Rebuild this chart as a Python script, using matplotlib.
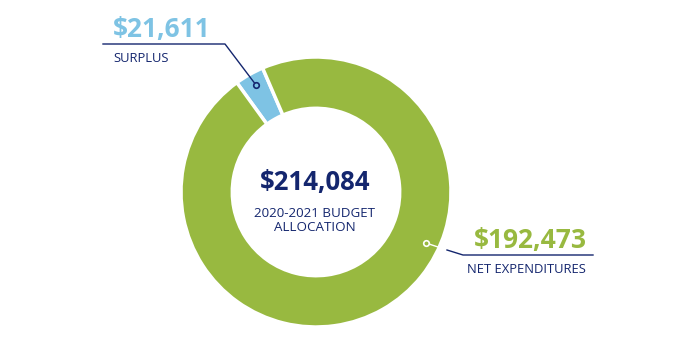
import matplotlib.pyplot as plt

# values shown on the chart
labels = ['NET EXPENDITURES', 'SURPLUS']
amounts = ['$192,473', '$21,611']
total = '$214,084'
title_lines = ['2020-2021 BUDGET', 'ALLOCATION']
# slice sizes as drawn in the picture (percent of the ring)
shares = [96.5, 3.5]

green = '#98B940'
blue = '#7EC3E4'
navy = '#14266E'

W, H = 686, 359
fig = plt.figure(figsize=(W / 100, H / 100), dpi=100)
ax = fig.add_axes([0, 0, 1, 1])

cx, cy, R = 316, H - 192, 135
ax.pie(shares[::-1], colors=[blue, green], startangle=113.3, counterclock=True,
       radius=R, center=(cx, cy), frame=True,
       wedgeprops=dict(width=R * 0.38, edgecolor='white', linewidth=2.5))
ax.set_xlim(0, W)
ax.set_ylim(0, H)
ax.set_aspect('equal')
ax.axis('off')

def Y(y):
    return H - y

fam = ['Open Sans', 'DejaVu Sans']

# centre text
ax.text(cx - 1, Y(190), total, ha='center', va='baseline', fontsize=18.5,
        fontweight='bold', color=navy, family=fam)
ax.text(cx - 1, Y(217), title_lines[0], ha='center', va='baseline', fontsize=9.6,
        color=navy, family=fam)
ax.text(cx - 1, Y(231), title_lines[1], ha='center', va='baseline', fontsize=9.6,
        color=navy, family=fam)

# surplus callout
ax.plot([103, 225, 256], [Y(44), Y(44), Y(85)], color=navy, lw=1)
ax.plot([256], [Y(85)], 'o', ms=4, mfc=blue, mec=navy, mew=1.2)
ax.text(113, Y(37), amounts[1], ha='left', va='baseline', fontsize=19,
        fontweight='bold', color=blue, family=fam)
ax.text(113, Y(62), labels[1], ha='left', va='baseline', fontsize=9.4,
        color=navy, family=fam)

# net expenditures callout
ax.plot([426, 447], [Y(243), Y(250)], color='white', lw=1)
ax.plot([447, 463, 593], [Y(250), Y(255), Y(255)], color=navy, lw=1)
ax.plot([426], [Y(243)], 'o', ms=4, mfc=green, mec='white', mew=1.2)
ax.text(474, Y(248), amounts[0], ha='left', va='baseline', fontsize=19,
        fontweight='bold', color=green, family=fam)
ax.text(467, Y(273), labels[0], ha='left', va='baseline', fontsize=9.4,
        color=navy, family=fam)

fig.savefig('out.png', dpi=100)
